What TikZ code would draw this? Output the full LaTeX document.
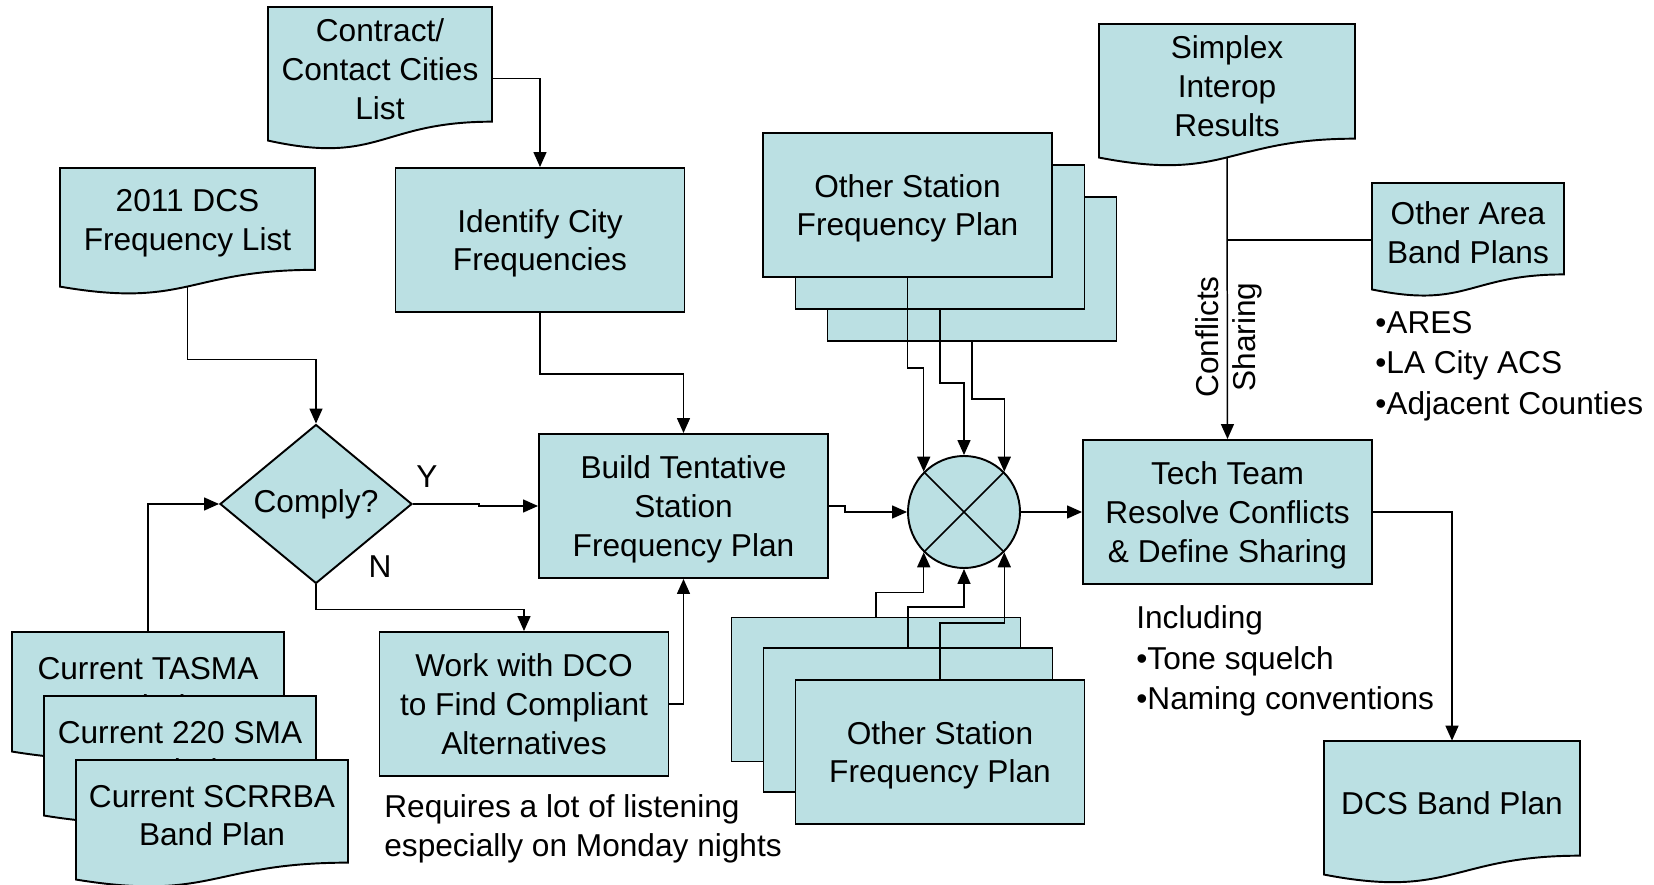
\documentclass[tikz,border=0pt]{standalone}
\usepackage{fontspec}
\setmainfont{Liberation Sans}
\usetikzlibrary{arrows.meta,%
                shapes.geometric}
\definecolor{plan}{HTML}{BBE0E3}

% document shape: name, left, top, width, height, text
\newcommand{\flowdoc}[6]{%
  \filldraw[doc] (#2,#3) -- (#2+#4,#3) -- (#2+#4,#3+0.802*#5)
    .. controls (#2+0.5*#4,#3+0.802*#5) and (#2+0.5*#4,#3+1.1075*#5) .. (#2,#3+0.934*#5) -- cycle;
  \node[docarea, minimum width=#4*0.2mm, minimum height=#5*0.2mm] (#1) at (#2+0.5*#4,#3+0.5*#5) {};
  \node[txt] (#1t) at (#2+0.5*#4,#3+0.435*#5) {#6};
  \coordinate (#1-s) at (#2+0.5*#4,#3+0.934*#5);
}

\begin{document}
\begin{tikzpicture}[x=0.2mm,y=-0.2mm,
	font=\fontsize{18pt}{22pt}\selectfont,
	box/.style={draw, fill=plan, line width=1.1pt, minimum width=57.8mm, minimum height=28.8mm, align=center, inner sep=0pt, text depth=0pt},
	doc/.style={draw, fill=plan, line width=1.1pt},
	docarea/.style={inner sep=0pt},
	txt/.style={align=center, inner sep=0pt},
	note/.style={align=left, anchor=west, inner sep=0pt, font=\fontsize{18pt}{23pt}\selectfont},
	dec/.style={diamond, draw, fill=plan, line width=1.1pt, minimum width=38.4mm, minimum height=31.8mm, inner sep=0pt},
	sum/.style={circle, draw, fill=plan, line width=1.1pt, minimum size=22.4mm, inner sep=0pt,
		path picture={\draw[line width=0.9pt] (path picture bounding box.north west) -- (path picture bounding box.south east)
			(path picture bounding box.north east) -- (path picture bounding box.south west);}}]
	\useasboundingbox (0,0) rectangle (1654,885);

	\flowdoc{clist}{268}{7}{224}{143}{Contract/\\Contact Cities\\List}
	\flowdoc{dcs}{60}{168}{255}{127}{2011 DCS\\Frequency List}
	\node[box] (ident) at (540,240) {Identify City\\Frequencies};
	\node[dec] (comply) at (316,504) {Comply?};
	\node (yes) at (427,477) {Y};
	\node (no) at (380,567) {N};
	\node[box] (build) at (683.5,506) {Build Tentative\\Station\\Frequency Plan};
	\node[box] (work) at (524,704) {Work with DCO\\to Find Compliant\\Alternatives};
	\node[note, font=\fontsize{18pt}{22pt}\selectfont] (listen) at (384,829) {Requires a lot of listening\\especially on Monday nights};

	\flowdoc{tasma}{12}{632}{272}{128}{Current TASMA\\Band Plan}
	\flowdoc{sma}{44}{696}{272}{128}{Current 220 SMA\\Band Plan}
	\flowdoc{scrrba}{76}{760}{272}{128}{Current SCRRBA\\Band Plan}

	% other stations, stacked
	\node[box] (osa3) at (972,269) {};
	\node[box] (osa2) at (940,237) {};
	\node[box] (osa1) at (907.5,205) {Other Station\\Frequency Plan};
	\node[box] (osb3) at (876,689.5) {};
	\node[box] (osb2) at (908,720) {};
	\node[box] (osb1) at (940,752) {Other Station\\Frequency Plan};

	\node[sum] (mix) at (964,512) {};
	\node[box] (tech) at (1227.5,512) {Tech Team\\Resolve Conflicts\\\& Define Sharing};
	\node[note] (incl) at (1136,661) {Including\\•Tone squelch\\•Naming conventions};

	\flowdoc{simplex}{1099}{24}{256}{143}{Simplex\\Interop\\Results}
	\flowdoc{area}{1372}{183}{192}{114}{Other Area\\Band Plans}
	\node[note] (ares) at (1375,366) {•ARES\\•LA City ACS\\•Adjacent Counties};
	\node[rotate=90] (confl) at (1207,337) {Conflicts};
	\node[rotate=90] (share) at (1247,337) {Sharing};
	\flowdoc{band}{1324}{741}{256}{143}{DCS Band Plan}

	\begin{scope}[>={Triangle[length=3mm,width=2.6mm]}, every path/.style={->, line width=0.85pt}]
		\draw (clist.east) -| (ident.north);
		\draw (dcs-s) -- ++(0,73) -| (comply.north);
		\draw (tasma.north) |- (comply.west);
		\draw (comply.east) -- ++(66,0) |- (build.west);
		\draw (comply.south) -- ++(0,25) -| (work.north);
		\draw (work.east) -| (build.south);
		\draw (ident.south) -- ++(0,61) -| (build.north);
		\draw (build.east) -- ++(16,0) |- (mix.west);
		\draw (osa1.south) -- ++(0,90) -| (mix.north west);
		\draw (osa2.south) -- ++(0,73) -| (mix.north);
		\draw (osa3.south) -- ++(0,57) -| (mix.north east);
		\draw (osb3.north) -- ++(0,-24) -| (mix.south west);
		\draw (osb2.north) -- ++(0,-40) -| (mix.south);
		\draw (osb1.north) -- ++(0,-56) -| (mix.south east);
		\draw (mix.east) -- (tech.west);
		\draw (simplex-s) -- (tech.north);
		\draw[-] (area.west) -- (area.west -| tech.north);
		\draw (tech.east) -| (band.north);
	\end{scope}
\end{tikzpicture}
\end{document}
